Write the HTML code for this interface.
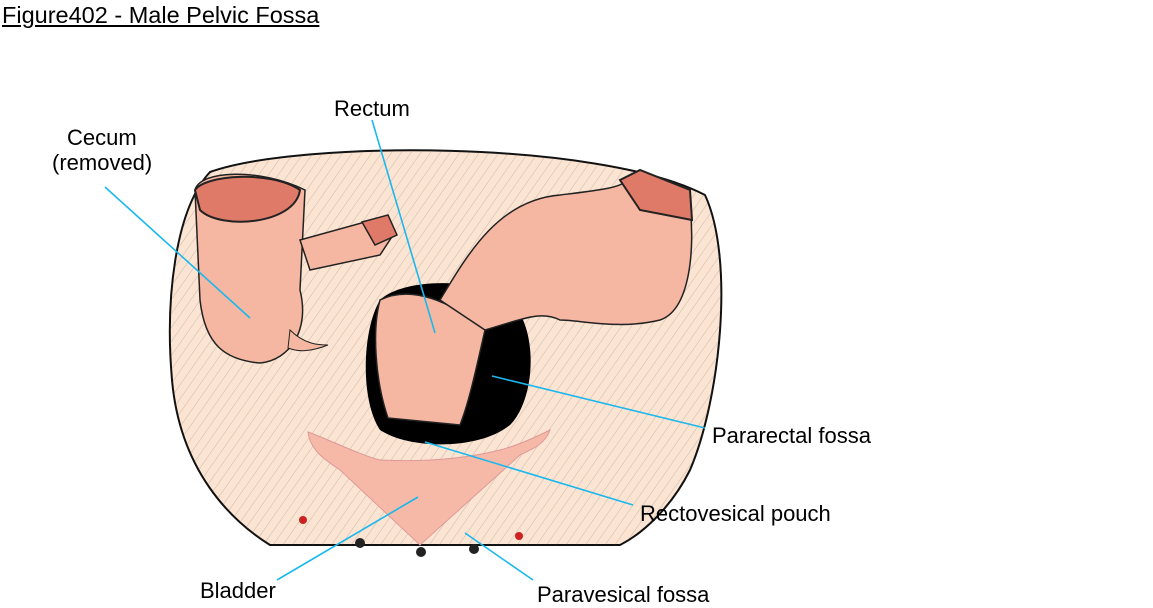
<!DOCTYPE html>
<html><head><meta charset="utf-8"><style>
html,body{margin:0;padding:0;background:#fff;}
body{width:1153px;height:602px;overflow:hidden;position:relative;font-family:"Liberation Sans",Arial,sans-serif;}
.t{position:absolute;font-size:22px;color:#000;white-space:nowrap;}
</style></head><body>
<div class="t" style="left:2px;top:2px;font-size:23.5px;text-decoration:underline;">Figure402 - Male Pelvic Fossa</div>
<svg width="1153" height="602" style="position:absolute;left:0;top:0">
<defs>
<pattern id="h" width="8" height="8" patternUnits="userSpaceOnUse" patternTransform="rotate(35)">
<line x1="0" y1="0" x2="0" y2="8" stroke="#555" stroke-width="0.6"/></pattern>
</defs>
<path d="M210,172 C300,140 600,140 705,195 C735,260 720,400 690,470 C670,510 640,535 620,545 L270,545 C230,520 180,470 172,380 C165,300 175,210 210,172 Z" fill="#fbe4d2" stroke="#111" stroke-width="2"/>
<path d="M210,172 C300,140 600,140 705,195 C735,260 720,400 690,470 C670,510 640,535 620,545 L270,545 C230,520 180,470 172,380 C165,300 175,210 210,172 Z" fill="url(#h)" opacity="0.5"/>
<path d="M380,300 C400,280 470,275 510,300 C540,330 535,400 510,425 C480,450 410,450 380,430 C360,400 362,330 380,300 Z" fill="#000"/>
<path d="M380,300 C410,285 450,300 485,330 C478,360 470,400 460,425 L388,418 C375,380 372,330 380,300 Z" fill="#f5b7a2" stroke="#222" stroke-width="1.5"/>
<path d="M440,300 C470,250 500,200 560,195 C600,190 620,188 628,180 L690,205 C695,250 690,310 660,320 C620,330 580,320 560,320 C540,310 520,320 485,330 C470,320 455,310 440,300 Z" fill="#f5b7a2" stroke="#222" stroke-width="1.5"/>
<path d="M620,180 L640,170 L690,190 L692,220 L640,210 Z" fill="#e07a68" stroke="#222" stroke-width="2"/>
<path d="M195,190 C200,170 260,168 305,190 L300,290 C310,330 290,360 260,363 C225,360 205,345 200,300 Z" fill="#f5b7a2" stroke="#222" stroke-width="1.5"/>
<path d="M195,190 C205,175 270,170 300,190 C295,225 220,230 200,210 Z" fill="#e07a68" stroke="#222" stroke-width="2"/>
<path d="M300,240 L365,222 L395,232 L380,255 L310,270 Z" fill="#f5b7a2" stroke="#222" stroke-width="1.5"/>
<path d="M362,222 L388,215 L397,235 L375,245 Z" fill="#e07a68" stroke="#222" stroke-width="1.5"/>
<path d="M290,330 C305,345 320,345 328,345 C310,352 298,352 288,348 Z" fill="#f5b7a2" stroke="#222"/>
<path d="M308,432 C330,440 360,455 380,460 C420,462 460,460 500,450 C520,445 540,435 550,430 C545,445 530,450 520,455 L420,545 L340,470 C325,460 310,450 308,432 Z" fill="#f6b9a8" stroke="#d99" stroke-width="1"/>
<circle cx="303" cy="520" r="4" fill="#c22"/><circle cx="360" cy="543" r="5" fill="#222"/>
<circle cx="421" cy="552" r="5" fill="#222"/><circle cx="474" cy="549" r="5" fill="#222"/>
<circle cx="519" cy="536" r="4" fill="#c22"/>
<g stroke="#1ab8ee" stroke-width="1.6">
<line x1="105" y1="187" x2="250" y2="318"/>
<line x1="372" y1="120" x2="435" y2="333"/>
<line x1="705" y1="428" x2="492" y2="376"/>
<line x1="633" y1="505" x2="425" y2="442"/>
<line x1="277" y1="580" x2="418" y2="497"/>
<line x1="533" y1="580" x2="465" y2="533"/>
</g>
</svg>
<div class="t" style="left:67px;top:125px;">Cecum</div>
<div class="t" style="left:52px;top:150px;">(removed)</div>
<div class="t" style="left:334px;top:96px;">Rectum</div>
<div class="t" style="left:712px;top:423px;">Pararectal fossa</div>
<div class="t" style="left:640px;top:501px;">Rectovesical pouch</div>
<div class="t" style="left:200px;top:578px;">Bladder</div>
<div class="t" style="left:537px;top:582px;">Paravesical fossa</div>
</body></html>
